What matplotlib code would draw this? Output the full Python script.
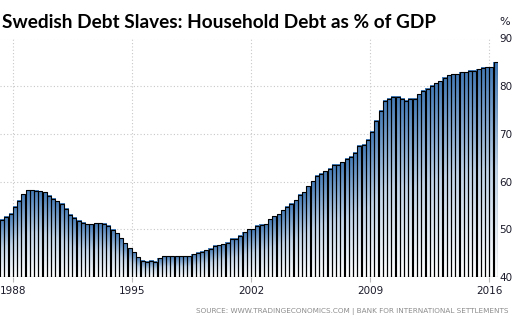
import numpy as np
import matplotlib.pyplot as plt
from matplotlib.colors import LinearSegmentedColormap

# Swedish household debt, % of GDP, quarterly from 1987 Q2 to 2016 Q2
debt = [52.0, 52.6, 53.3, 54.7, 56.0, 57.3, 58.2, 58.2, 58.1, 58.0,
        57.8, 57.0, 56.4, 55.9, 55.4, 54.3, 53.1, 52.4, 51.8, 51.4,
        51.1, 51.1, 51.3, 51.3, 51.2, 50.7, 49.9, 49.2, 48.1, 47.1,
        46.0, 45.2, 44.1, 43.4, 43.2, 43.4, 43.2, 43.9, 44.4, 44.4,
        44.4, 44.4, 44.4, 44.4, 44.4, 44.8, 45.1, 45.3, 45.6, 45.9,
        46.5, 46.7, 46.9, 47.2, 48.0, 48.0, 48.6, 49.4, 50.0, 50.0,
        50.7, 51.0, 51.1, 52.1, 52.7, 53.2, 54.0, 54.7, 55.4, 56.1,
        57.2, 57.8, 59.0, 60.1, 61.2, 61.6, 62.2, 62.7, 63.5, 63.5,
        64.1, 64.8, 65.2, 66.0, 67.5, 67.7, 68.8, 70.5, 72.8, 74.9,
        77.0, 77.4, 77.8, 77.8, 77.4, 77.0, 77.4, 77.4, 78.3, 79.0,
        79.5, 80.1, 80.6, 81.0, 81.8, 82.3, 82.5, 82.5, 82.9, 82.9,
        83.2, 83.2, 83.6, 83.9, 84.0, 84.0, 85.0]
quarters = 1987.375 + 0.25 * np.arange(len(debt))   # quarter midpoints
years = [1988, 1995, 2002, 2009, 2016]
y_ticks = [40, 50, 60, 70, 80, 90]

W, H = 514, 328
fig = plt.figure(figsize=(W / 100, H / 100), dpi=100)
ax = fig.add_axes([0, (H - 277) / H, 497.7 / W, (277 - 38.5) / H])

ymin, ymax = 40, 90
x0, x1 = quarters[0] - 0.125, quarters[-1] + 0.125

# dotted grid, horizontal lines stop at the last year tick
ax.hlines(y_ticks[1:], x0, years[-1], colors='#c8c8c8', linestyles=(0, (1, 2)),
          linewidth=0.8, zorder=0)
ax.vlines(years, ymin, ymax, colors='#c8c8c8', linestyles=(0, (1, 2)),
          linewidth=0.8, zorder=0)

# each bar filled with a white-to-blue gradient
cmap = LinearSegmentedColormap.from_list('bar', ['#ffffff', '#c2d5e9', '#437ab6'])
grad = np.linspace(0, 1, 100).reshape(-1, 1)
w = 0.25
for x, v in zip(quarters, debt):
    ax.imshow(grad, cmap=cmap, aspect='auto', origin='lower',
              extent=(x - w / 2, x + w / 2, ymin, v), zorder=1,
              interpolation='bilinear')
ax.bar(quarters, np.array(debt) - ymin, bottom=ymin, width=w * 0.94,
       facecolor='none', edgecolor='black', linewidth=0.8, zorder=2)
ax.set_xlim(x0, x1)
ax.set_ylim(ymin, ymax)

for s in ax.spines.values():
    s.set_visible(False)

ax.set_xticks(years)
ax.set_xticklabels([str(y) for y in years])
ax.tick_params(axis='x', length=3.6, color='#bbbbbb', width=0.8, pad=3,
               labelsize=7.5, labelcolor='#1a1a2a')
ax.yaxis.tick_right()
ax.set_yticks(y_ticks)
ax.set_yticklabels([str(t) for t in y_ticks])
ax.tick_params(axis='y', length=0, pad=1.2, labelsize=7.5, labelcolor='#1a1a2a')

fig.text(2 / W, 1 - 27.7 / H, 'Swedish Debt Slaves: Household Debt as % of GDP',
         fontfamily='Lato', fontweight='bold', fontsize=13.7, va='baseline',
         ha='left', color='black')
fig.text(504.5 / W, 1 - 25 / H, '%', fontsize=8, ha='center', va='baseline',
         color='#1a1a2a')
fig.text(508 / W, 1 - 313 / H,
         'SOURCE: WWW.TRADINGECONOMICS.COM | BANK FOR INTERNATIONAL SETTLEMENTS',
         fontsize=5.2, ha='right', va='baseline', color='#8c8c8c')

fig.savefig('out.png', dpi=100)
